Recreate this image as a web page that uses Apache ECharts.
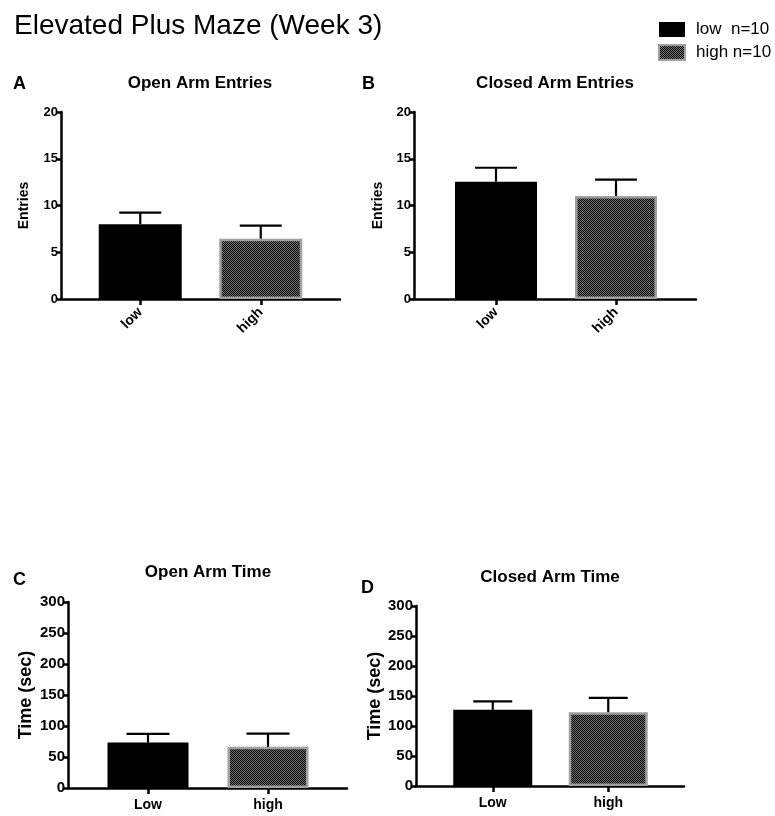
<!DOCTYPE html>
<html>
<head>
<meta charset="utf-8">
<script src="https://cdn.jsdelivr.net/npm/echarts@6/dist/echarts.min.js"></script>
<style>html,body{margin:0;padding:0;background:#fff}#c{width:775px;height:816px}</style>
</head>
<body>
<div id="c"></div>
<script>
// ---- data ----
const groups = ['low', 'high'];
const groupsTime = ['Low', 'high'];
const legendNames = ['low  n=10', 'high n=10'];
const openEntriesMean = [8.0, 6.45];
const openEntriesSem = [1.23, 1.39];
const closedEntriesMean = [12.55, 11.02];
const closedEntriesSem = [1.49, 1.74];
const openTimeMean = [73.3, 66.4];
const openTimeSem = [14.0, 21.4];
const closedTimeMean = [126.9, 123.0];
const closedTimeSem = [14.0, 23.9];
const entriesTicks = { min: 0, max: 20, interval: 5 };
const timeTicks = { min: 0, max: 300, interval: 50 };

// ---- pattern for the "high" group ----
const pat = document.createElement('canvas');
pat.width = 4; pat.height = 4;
const pctx = pat.getContext('2d');
pctx.fillStyle = '#767676'; pctx.fillRect(0, 0, 4, 4);
pctx.fillStyle = '#000';
for (let r = 0; r < 4; r++) for (let c = 0; c < 4; c++) if ((r + c) % 2 === 0) pctx.fillRect(c, r, 1, 1);
const highFill = { image: pat, repeat: 'repeat' };

const FONT = '"Liberation Sans", Arial, sans-serif';

const panels = [
  { frame: { left: 61, top: 112, width: 279, height: 187 }, data: { left: 80, top: 112, width: 241, height: 187 },
    cats: groups, mean: openEntriesMean, sem: openEntriesSem, ticks: entriesTicks, yName: 'Entries',
    nameSize: 14, tickSize: 13, rotate: 45, catSize: 14, nameGap: 30, barWidth: 83, cap: 42 },
  { frame: { left: 414, top: 112, width: 282, height: 187 }, data: { left: 436, top: 112, width: 240, height: 187 },
    cats: groups, mean: closedEntriesMean, sem: closedEntriesSem, ticks: entriesTicks, yName: 'Entries',
    nameSize: 14, tickSize: 13, rotate: 45, catSize: 14, nameGap: 29, barWidth: 82, cap: 42 },
  { frame: { left: 68, top: 602, width: 279, height: 186 }, data: { left: 88, top: 602, width: 240, height: 186 },
    cats: groupsTime, mean: openTimeMean, sem: openTimeSem, ticks: timeTicks, yName: 'Time (sec)',
    nameSize: 18, tickSize: 15, rotate: 0, catSize: 14, nameGap: 33, barWidth: 81, cap: 43 },
  { frame: { left: 416, top: 606, width: 268, height: 180 }, data: { left: 435, top: 606, width: 231, height: 180 },
    cats: groupsTime, mean: closedTimeMean, sem: closedTimeSem, ticks: timeTicks, yName: 'Time (sec)',
    nameSize: 18, tickSize: 15, rotate: 0, catSize: 14, nameGap: 31, barWidth: 79, cap: 39 }
];

const grid = [], xAxis = [], yAxis = [], series = [];
const axisLineStyle = { color: '#000', width: 2.5 };

panels.forEach((p, i) => {
  const fi = grid.length;
  grid.push(Object.assign({ containLabel: false, outerBoundsMode: 'none' }, p.frame));
  const di = grid.length;
  grid.push(Object.assign({ containLabel: false, outerBoundsMode: 'none' }, p.data));

  // frame grid: full x axis line + visible y axis
  xAxis.push({ gridIndex: fi, type: 'value', min: 0, max: 1,
    axisLine: { show: true, onZero: false, lineStyle: axisLineStyle },
    axisTick: { show: false }, axisLabel: { show: false }, splitLine: { show: false } });
  yAxis.push({ gridIndex: fi, type: 'value', min: p.ticks.min, max: p.ticks.max, interval: p.ticks.interval,
    name: p.yName, nameLocation: 'middle', nameRotate: 90, nameGap: p.nameGap,
    nameTextStyle: { fontFamily: FONT, fontWeight: 'bold', fontSize: p.nameSize, color: '#000' },
    axisLine: { show: true, lineStyle: axisLineStyle },
    axisTick: { show: true, length: 5, lineStyle: axisLineStyle },
    axisLabel: { fontFamily: FONT, fontWeight: 'bold', fontSize: p.tickSize, color: '#000', margin: 3 },
    splitLine: { show: false } });

  // data grid: categories
  xAxis.push({ gridIndex: di, type: 'category', data: p.cats,
    axisLine: { show: false },
    axisTick: { show: true, alignWithLabel: true, length: 6, lineStyle: axisLineStyle },
    axisLabel: { fontFamily: FONT, fontWeight: 'bold', fontSize: p.catSize, color: '#000',
      rotate: p.rotate, margin: p.rotate ? 11 : 10 },
    splitLine: { show: false } });
  yAxis.push({ gridIndex: di, type: 'value', show: false,
    min: p.ticks.min, max: p.ticks.max, interval: p.ticks.interval, splitLine: { show: false } });

  const xi = xAxis.length - 1, yi = yAxis.length - 1;
  series.push({ type: 'bar', name: legendNames[0], xAxisIndex: xi, yAxisIndex: yi,
    data: [p.mean[0], '-'], barWidth: p.barWidth, barGap: '-100%',
    itemStyle: { color: '#000' }, z: 2, silent: true });
  series.push({ type: 'bar', name: legendNames[1], xAxisIndex: xi, yAxisIndex: yi,
    data: ['-', p.mean[1]], barWidth: p.barWidth, barGap: '-100%',
    itemStyle: { color: highFill, borderColor: '#a0a0a0', borderWidth: 2.5 }, z: 2, silent: true });
  const cap = p.cap;
  series.push({ type: 'custom', xAxisIndex: xi, yAxisIndex: yi, z: 3, silent: true,
    data: p.mean.map((m, k) => [k, m, p.sem[k]]),
    renderItem: (params, api) => {
      const x = api.value(0), m = api.value(1), e = api.value(2);
      const p0 = api.coord([x, m]);
      const p1 = api.coord([x, m + e]);
      const st = { stroke: '#000', lineWidth: 2.2 };
      return { type: 'group', children: [
        { type: 'line', shape: { x1: p0[0], y1: p0[1], x2: p1[0], y2: p1[1] }, style: st },
        { type: 'line', shape: { x1: p1[0] - cap / 2, y1: p1[1], x2: p1[0] + cap / 2, y2: p1[1] }, style: st }
      ] };
    } });
});

function txt(text, x, y, size, bold, align) {
  return { type: 'text', x: x, y: y, silent: true,
    style: { text: text, font: (bold ? 'bold ' : '') + size + 'px ' + FONT, fill: '#000',
      align: align || 'left', verticalAlign: 'middle' } };
}

const option = {
  animation: false,
  backgroundColor: '#fff',
  grid: grid, xAxis: xAxis, yAxis: yAxis, series: series,
  legend: { data: legendNames, orient: 'vertical', left: 658, top: 21, padding: 0, icon: 'rect',
    itemWidth: 26, itemHeight: 15, itemGap: 6, selectedMode: false,
    textStyle: { fontFamily: FONT, fontSize: 17, color: '#000', padding: [0, 0, 0, 6] } },
  graphic: [
    txt('Elevated Plus Maze (Week 3)', 14, 26, 28, false),
    txt('A', 13, 84, 18, true), txt('Open Arm Entries', 200, 83, 17, true, 'center'),
    txt('B', 362, 84, 18, true), txt('Closed Arm Entries', 555, 83, 17, true, 'center'),
    txt('C', 13, 580, 18, true), txt('Open Arm Time', 208, 572, 17, true, 'center'),
    txt('D', 361, 588, 18, true), txt('Closed Arm Time', 550, 577, 17, true, 'center')
  ]
};

const chart = echarts.init(document.getElementById('c'), null, { renderer: 'canvas' });
chart.setOption(option);
</script>
</body>
</html>
